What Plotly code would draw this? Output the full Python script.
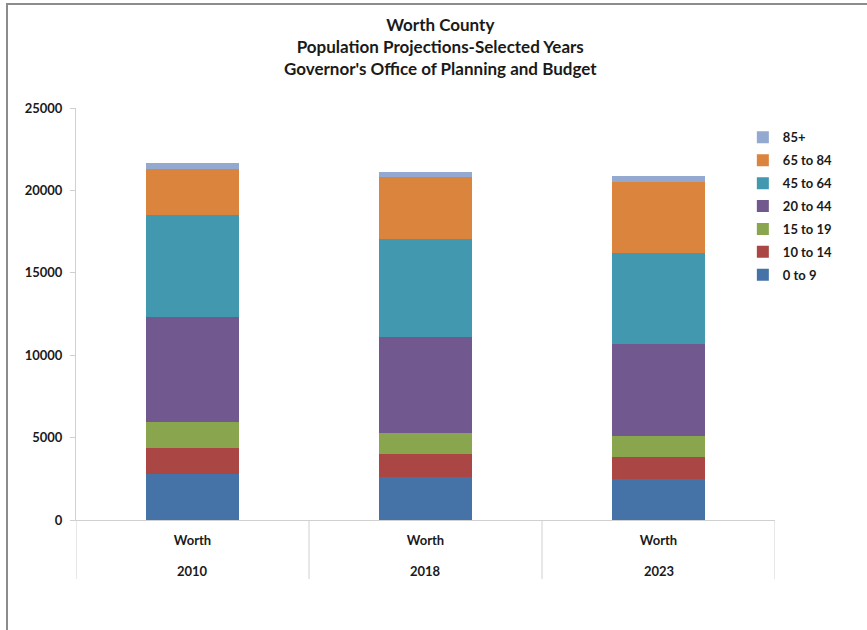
import plotly.graph_objects as go

# Projection years and the county shown under each bar
years = ["2010", "2018", "2023"]
county = ["Worth", "Worth", "Worth"]

# Age groups, bottom of the stack first
age_groups = ["0 to 9", "10 to 14", "15 to 19", "20 to 44", "45 to 64", "65 to 84", "85+"]

# Population by age group for each projection year
pop_0_9 = [2790, 2630, 2490]
pop_10_14 = [1560, 1355, 1355]
pop_15_19 = [1580, 1275, 1275]
pop_20_44 = [6410, 5865, 5565]
pop_45_64 = [6170, 5945, 5500]
pop_65_84 = [2810, 3745, 4330]
pop_85_plus = [330, 320, 385]

series = [pop_0_9, pop_10_14, pop_15_19, pop_20_44, pop_45_64, pop_65_84, pop_85_plus]
colors = ["#4572A7", "#AA4643", "#89A54E", "#71588F", "#4198AF", "#DB843D", "#93A9CF"]

FONT = "Lato"
TEXT = "#1a1a1a"
AXIS = "#D0D0D0"

# plot area size in pixels, used to express offsets in paper units
PW, PH = 699, 412

fig = go.Figure()
n = len(age_groups)
for i, (name, vals, col) in enumerate(zip(age_groups, series, colors)):
    fig.add_trace(go.Bar(
        x=years,
        y=vals,
        name=name,
        legendgroup=name,
        legendrank=1000 + (n - i),  # oldest group listed first, as stacked
        marker=dict(color=col, line=dict(width=0)),
        width=0.4,
    ))

fig.update_layout(
    width=867,
    height=630,
    barmode="stack",
    paper_bgcolor="white",
    plot_bgcolor="white",
    margin=dict(l=76, r=92, t=108, b=110, autoexpand=False),
    font=dict(family=FONT, color=TEXT, size=13),
    legend=dict(
        x=0.954, xanchor="left",
        y=0.965, yanchor="top",
        traceorder="grouped",
        font=dict(family=FONT, size=13, color=TEXT, weight="bold"),
        itemwidth=30,
        tracegroupgap=3,
        bgcolor="rgba(0,0,0,0)",
    ),
    showlegend=True,
)

# Three-line chart heading
fig.add_annotation(
    xref="paper", yref="paper",
    x=(440 - 76) / PW, y=1 + (108 - 12) / PH,
    xanchor="center", yanchor="top",
    text="Worth County<br>Population Projections-Selected Years<br>Governor's Office of Planning and Budget",
    showarrow=False, align="center",
    font=dict(family=FONT, size=17, color=TEXT, weight="bold"),
)

fig.update_yaxes(
    range=[0, 25000],
    dtick=5000,
    showgrid=False,
    zeroline=False,
    showline=True,
    linecolor=AXIS,
    linewidth=1,
    ticks="outside",
    ticklen=5,
    tickcolor=AXIS,
    ticklabelstandoff=5,
    tickfont=dict(family=FONT, size=13, color=TEXT, weight="bold"),
    tickformat="d",
)

fig.update_xaxes(
    type="category",
    range=[-0.5, len(years) - 0.5],
    tickvals=years,
    ticktext=county,
    ticks="",
    ticklabelstandoff=8,
    showgrid=False,
    showline=True,
    linecolor=AXIS,
    linewidth=1,
    tickfont=dict(family=FONT, size=13, color=TEXT, weight="bold"),
)

# Year labels on the second row of the category axis
for i, yr in enumerate(years):
    fig.add_annotation(
        x=i, xref="x", y=-51 / PH, yref="paper",
        text=yr, showarrow=False, yanchor="middle",
        font=dict(family=FONT, size=13, color=TEXT, weight="bold"),
    )

# Dividers between the year groups, down through both label rows
for i in range(len(years) + 1):
    fig.add_shape(type="line", xref="x", yref="paper",
                  x0=i - 0.5, x1=i - 0.5, y0=0, y1=-59 / PH,
                  line=dict(color=AXIS, width=1))

# Frame on the top and left edges of the chart area
fig.add_shape(type="line", xref="paper", yref="paper",
              x0=-70 / PW, x1=1 + 92 / PW, y0=1 + 104 / PH, y1=1 + 104 / PH,
              line=dict(color="#8c8c8c", width=2))
fig.add_shape(type="line", xref="paper", yref="paper",
              x0=-69 / PW, x1=-69 / PW, y0=-110 / PH, y1=1 + 104 / PH,
              line=dict(color="#8c8c8c", width=2))

fig.write_html("out.html")
